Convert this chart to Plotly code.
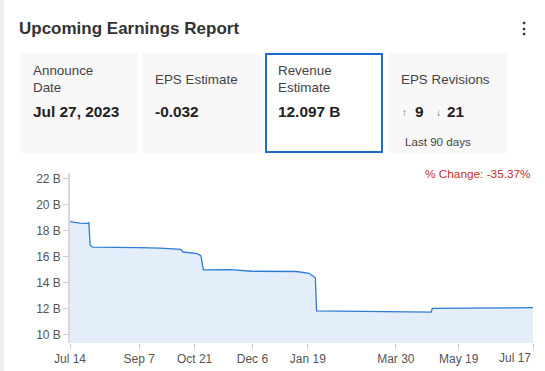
import plotly.graph_objects as go

# ---- data ----
dates = ["2022-07-14", "2022-07-22", "2022-07-28", "2022-07-29", "2022-07-30", "2022-08-01",
         "2022-09-07", "2022-09-24", "2022-10-10", "2022-10-12", "2022-10-23", "2022-10-26",
         "2022-10-28", "2022-11-18", "2022-12-06", "2023-01-10", "2023-01-20", "2023-01-25",
         "2023-01-26", "2023-03-02", "2023-04-03", "2023-04-27", "2023-04-28", "2023-05-21",
         "2023-07-17"]
revenue_b = [18.72, 18.6, 18.58, 18.64, 16.9, 16.75,
             16.72, 16.68, 16.58, 16.38, 16.25, 16.1,
             15.0, 15.02, 14.9, 14.88, 14.74, 14.4,
             11.85, 11.82, 11.78, 11.75, 12.05, 12.08,
             12.097]
tick_dates = ["2022-07-14", "2022-09-07", "2022-10-21", "2022-12-06", "2023-01-19",
              "2023-03-30", "2023-05-19", "2023-07-17"]
tick_labels = ["Jul 14", "Sep 7", "Oct 21", "Dec 6", "Jan 19", "Mar 30", "May 19", "Jul 17"]
y_ticks = [10, 12, 14, 16, 18, 20, 22]
y_labels = [f"{v} B" for v in y_ticks]

W, H = 545, 371
L, R, T, B = 70, 533, 173, 343
FONT = "Liberation Sans, Arial, sans-serif"


def px(x):
    return (x - L) / (R - L)


def py(y):
    return (B - y) / (B - T)


fig = go.Figure()
fig.add_trace(go.Scatter(
    x=dates, y=revenue_b, mode="lines",
    line=dict(color="#2c7bd4", width=1.3),
    fill="tozeroy", fillcolor="#e3eefa",
    hoverinfo="skip", showlegend=False,
))

shapes = []
# left edge strip
shapes.append(dict(type="rect", xref="paper", yref="paper", x0=px(0), x1=px(4), y0=py(371), y1=py(0),
                   fillcolor="#f0f0f0", line=dict(width=0), layer="below"))
cards = [(20, 138), (142, 263), (265, 383), (388, 507)]
for i, (x0, x1) in enumerate(cards):
    if i == 2:
        shapes.append(dict(type="rect", xref="paper", yref="paper", x0=px(x0 + 1), x1=px(x1 - 1),
                           y0=py(152), y1=py(54), fillcolor="white",
                           line=dict(color="#1a6fcc", width=2)))
    else:
        shapes.append(dict(type="rect", xref="paper", yref="paper", x0=px(x0), x1=px(x1),
                           y0=py(153), y1=py(53), fillcolor="#f8f8f8", line=dict(width=0),
                           layer="below"))

ann = []


def text(x, y, s, size=14, color="#333333", bold=False, anchor="left"):
    if bold:
        s = f"<b>{s}</b>"
    ann.append(dict(x=px(x), y=py(y), xref="paper", yref="paper", text=s, showarrow=False,
                    xanchor=anchor, yanchor="middle",
                    font=dict(family=FONT, size=size, color=color)))


LBL = 13.4
VAL = 15.4
text(17, 29, "Upcoming Earnings Report", size=17, color="#333333", bold=True)
text(524, 28, "⋮", size=16, color="#333333", bold=True, anchor="center")

text(31, 71, "Announce", size=LBL, color="#444444")
text(31, 87, "Date", size=LBL, color="#444444")
text(31, 111, "Jul 27, 2023", size=VAL, color="#222222", bold=True)

text(153, 79, "EPS Estimate", size=LBL, color="#444444")
text(153, 111, "-0.032", size=VAL, color="#222222", bold=True)

text(276, 71, "Revenue", size=LBL, color="#444444")
text(276, 87, "Estimate", size=LBL, color="#444444")
text(276, 111, "12.097 B", size=VAL, color="#222222", bold=True)

text(399, 79, "EPS Revisions", size=LBL, color="#444444")
text(400, 112, "↑", size=10, color="#666666")
text(413, 111, "9", size=VAL, color="#222222", bold=True)
text(434, 112, "↓", size=10, color="#666666")
text(445, 111, "21", size=VAL, color="#222222", bold=True)
text(403, 141, "Last 90 days", size=11.6, color="#444444")

text(533, 174, "% Change: -35.37%", size=11.8, color="#c4302b", anchor="right")

# last tick label sits left of its tick (kept inside the card)
ann.append(dict(x=tick_dates[-1], y=0, xref="x", yref="paper", text=tick_labels[-1],
                showarrow=False, xanchor="right", yanchor="top", yshift=-6,
                font=dict(family=FONT, size=12, color="#555555")))
shown_labels = tick_labels[:-1] + [""]

fig.update_layout(
    width=W, height=H, autosize=False,
    margin=dict(l=L, r=W - R, t=T, b=H - B, pad=0, autoexpand=False),
    paper_bgcolor="white", plot_bgcolor="white",
    font=dict(family=FONT, color="#555555", size=12),
    shapes=shapes, annotations=ann,
    xaxis=dict(type="date", range=["2022-07-14", "2023-07-17"],
               tickvals=tick_dates, ticktext=shown_labels, automargin=False,
               showgrid=False, zeroline=False, showline=False,
               ticks="outside", ticklen=5, tickcolor="#cccccc",
               tickfont=dict(size=12, color="#555555"), fixedrange=True),
    yaxis=dict(range=[9.38, 22.46], tickvals=y_ticks, ticktext=y_labels, automargin=False,
               showgrid=False, zeroline=False, showline=True, linecolor="#d8d8d8",
               linewidth=1.5, ticks="outside", ticklen=5, tickcolor="#cccccc",
               tickfont=dict(size=12, color="#555555"), fixedrange=True),
)

fig.write_html("out.html", config={"displayModeBar": False, "responsive": False},
               post_script="document.body.style.margin='0';document.body.style.overflow='hidden';")
